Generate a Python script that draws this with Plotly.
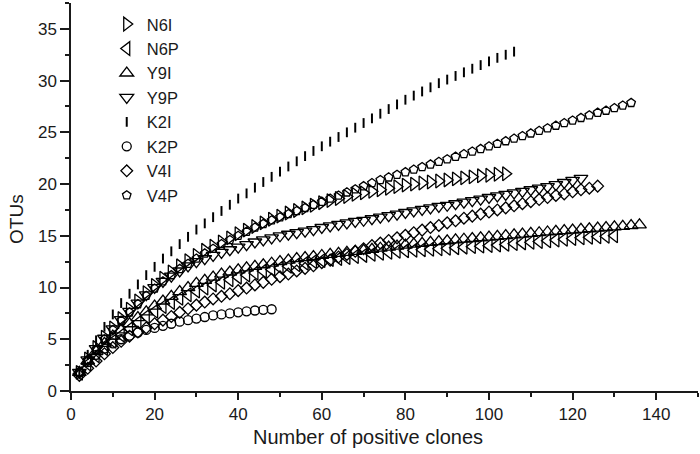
import plotly.graph_objects as go

# Number of positive clones (sampling points)
clones = [2, 4, 6, 8, 10, 12, 14, 16, 18, 20, 22, 24, 26, 28, 30, 32, 34, 36, 38, 40,
          42, 44, 46, 48, 50, 52, 54, 56, 58, 60, 62, 64, 66, 68, 70, 72, 74, 76, 78, 80,
          82, 84, 86, 88, 90, 92, 94, 96, 98, 100, 102, 104, 106, 108, 110, 112, 114, 116,
          118, 120, 122, 124, 126, 128, 130, 132, 134, 136]

N6I = [1.8, 3.1, 4.2, 5.2, 6.1, 7.0, 7.9, 8.7, 9.5, 10.2,
       10.9, 11.5, 12.1, 12.6, 13.1, 13.6, 14.0, 14.4, 14.8, 15.2,
       15.55, 15.9, 16.25, 16.6, 16.9, 17.2, 17.45, 17.7, 17.95, 18.2,
       18.4, 18.6, 18.8, 19.0, 19.15, 19.3, 19.45, 19.6, 19.75, 19.9,
       20.0, 20.1, 20.2, 20.3, 20.4, 20.5, 20.6, 20.7, 20.8, 20.85,
       20.95, 21.0]

N6P = [1.7, 2.6, 3.4, 4.1, 4.8, 5.4, 6.0, 6.6, 7.2, 7.7,
       8.15, 8.55, 8.95, 9.3, 9.65, 9.95, 10.25, 10.5, 10.75, 11.0,
       11.2, 11.4, 11.6, 11.75, 11.9, 12.05, 12.2, 12.35, 12.5, 12.6,
       12.7, 12.8, 12.9, 13.0, 13.1, 13.2, 13.3, 13.4, 13.5, 13.55,
       13.6, 13.65, 13.7, 13.75, 13.8, 13.85, 13.9, 13.95, 14.0, 14.05,
       14.1, 14.17, 14.24, 14.31, 14.38, 14.45, 14.52, 14.59, 14.66, 14.73,
       14.8, 14.85, 14.9, 14.95, 15.0]

Y9I = [1.8, 2.9, 3.8, 4.6, 5.3, 5.9, 6.5, 7.1, 7.65, 8.2,
       8.7, 9.15, 9.6, 10.0, 10.4, 10.7, 11.0, 11.3, 11.5, 11.7,
       11.9, 12.05, 12.2, 12.35, 12.5, 12.65, 12.8, 12.9, 13.0, 13.1,
       13.2, 13.3, 13.4, 13.5, 13.6, 13.7, 13.8, 13.9, 14.0, 14.1,
       14.2, 14.28, 14.36, 14.44, 14.52, 14.6, 14.67, 14.74, 14.81, 14.88,
       14.95, 15.02, 15.09, 15.16, 15.23, 15.3, 15.37, 15.44, 15.5, 15.56,
       15.62, 15.68, 15.74, 15.8, 15.86, 15.92, 15.98, 16.05]

Y9P = [1.8, 3.0, 4.1, 5.1, 6.0, 6.9, 7.7, 8.5, 9.3, 10.0,
       10.6, 11.1, 11.6, 12.1, 12.5, 12.8, 13.1, 13.4, 13.65, 13.9,
       14.15, 14.4, 14.6, 14.8, 15.0, 15.15, 15.3, 15.45, 15.6, 15.8,
       15.95, 16.1, 16.25, 16.4, 16.5, 16.65, 16.8, 16.95, 17.1, 17.25,
       17.4, 17.55, 17.7, 17.85, 17.95, 18.1, 18.25, 18.4, 18.55, 18.7,
       18.85, 19.0, 19.15, 19.3, 19.45, 19.6, 19.75, 19.95, 20.15, 20.35,
       20.55]

K2I = [1.9, 3.5, 4.9, 6.2, 7.4, 8.5, 9.4, 10.3, 11.2, 12.0,
       12.8, 13.5, 14.2, 14.9, 15.6, 16.2, 16.8, 17.4, 18.0, 18.6,
       19.1, 19.65, 20.2, 20.7, 21.2, 21.7, 22.2, 22.7, 23.2, 23.65,
       24.1, 24.55, 25.0, 25.45, 25.9, 26.35, 26.8, 27.25, 27.7, 28.15,
       28.55, 28.95, 29.35, 29.75, 30.1, 30.45, 30.8, 31.15, 31.5, 31.85,
       32.2, 32.5, 32.8]

K2P = [1.8, 2.8, 3.5, 4.1, 4.6, 5.0, 5.35, 5.65, 5.9, 6.1,
       6.3, 6.5, 6.7, 6.85, 7.0, 7.15, 7.3, 7.4, 7.5, 7.6,
       7.7, 7.78, 7.85, 7.9]

V4I = [1.5, 2.2, 2.9, 3.6, 4.2, 4.8, 5.3, 5.7, 6.1, 6.5,
       6.85, 7.2, 7.6, 7.95, 8.3, 8.6, 8.9, 9.15, 9.4, 9.7,
       9.95, 10.25, 10.5, 10.8, 11.05, 11.3, 11.6, 11.85, 12.1, 12.4,
       12.65, 12.95, 13.2, 13.5, 13.75, 14.05, 14.3, 14.55, 14.8, 15.05,
       15.3, 15.55, 15.8, 16.0, 16.25, 16.45, 16.7, 16.9, 17.1, 17.3,
       17.5, 17.7, 17.9, 18.1, 18.3, 18.5, 18.7, 18.9, 19.05, 19.25,
       19.45, 19.6, 19.8]

V4P = [1.8, 3.0, 4.0, 5.0, 5.9, 6.8, 7.6, 8.4, 9.2, 9.9,
       10.6, 11.2, 11.8, 12.3, 12.8, 13.3, 13.75, 14.2, 14.6, 15.0,
       15.4, 15.8, 16.15, 16.5, 16.8, 17.1, 17.4, 17.7, 18.0, 18.3,
       18.6, 18.9, 19.2, 19.5, 19.8, 20.1, 20.4, 20.65, 20.9, 21.15,
       21.4, 21.65, 21.9, 22.15, 22.4, 22.65, 22.9, 23.15, 23.4, 23.65,
       23.9, 24.15, 24.4, 24.65, 24.9, 25.15, 25.4, 25.65, 25.9, 26.15,
       26.4, 26.65, 26.9, 27.1, 27.35, 27.6, 27.85]

names = ["N6I", "N6P", "Y9I", "Y9P", "K2I", "K2P", "V4I", "V4P"]
series = [N6I, N6P, Y9I, Y9P, K2I, K2P, V4I, V4P]
symbols = ["triangle-right-open", "triangle-left-open", "triangle-up-open",
           "triangle-down-open", "line-ns-open", "circle-open", "diamond-open",
           "pentagon-open"]
sizes = [12, 12, 12, 12, 7, 9, 9, 9]
widths = [1.3, 1.3, 1.3, 1.3, 2, 1.3, 1.3, 1.3]

FONT = "Arial, Liberation Sans, sans-serif"

fig = go.Figure()
for name, ys, sym, sz, lw in zip(names, series, symbols, sizes, widths):
    fig.add_trace(go.Scatter(
        x=clones[:len(ys)], y=ys, name=name, mode="markers",
        marker=dict(symbol=sym, size=sz, color="black",
                    line=dict(color="black", width=lw)),
    ))

axis_common = dict(
    showgrid=False, zeroline=False, showline=True, linecolor="#1a1a1a",
    linewidth=1.5, ticks="outside", tickcolor="#1a1a1a", tickwidth=1.5,
    tickfont=dict(family=FONT, size=17, color="#1a1a1a"),
)

fig.update_layout(
    width=700, height=454,
    margin=dict(l=71, r=2, t=3, b=63),
    paper_bgcolor="white", plot_bgcolor="white",
    font=dict(family=FONT, color="#1a1a1a"),
    xaxis=dict(range=[0, 150], dtick=20, tick0=0, ticklen=7,
               minor=dict(dtick=10, ticklen=4, ticks="outside",
                          tickcolor="#1a1a1a", tickwidth=1.5),
               **axis_common),
    yaxis=dict(range=[0, 37.5], dtick=5, tick0=0, ticklen=9,
               minor=dict(dtick=2.5, ticklen=4, ticks="outside",
                          tickcolor="#1a1a1a", tickwidth=1.5),
               **axis_common),
    showlegend=True,
    legend=dict(x=0.057, y=0.99, xanchor="left", yanchor="top",
                bgcolor="rgba(0,0,0,0)", font=dict(family=FONT, size=16.5),
                tracegroupgap=0),
    annotations=[
        dict(text="Number of positive clones", xref="paper", yref="paper",
             x=0.474, y=-0.118, xanchor="center", yanchor="middle",
             showarrow=False, font=dict(family=FONT, size=20)),
        dict(text="OTUs", xref="paper", yref="paper", textangle=-90,
             x=-0.088, y=0.443, xanchor="center", yanchor="middle",
             showarrow=False, font=dict(family=FONT, size=19)),
    ],
)

fig.write_html("out.html", config={"displayModeBar": False},
               post_script="document.body.style.margin='0px';")
